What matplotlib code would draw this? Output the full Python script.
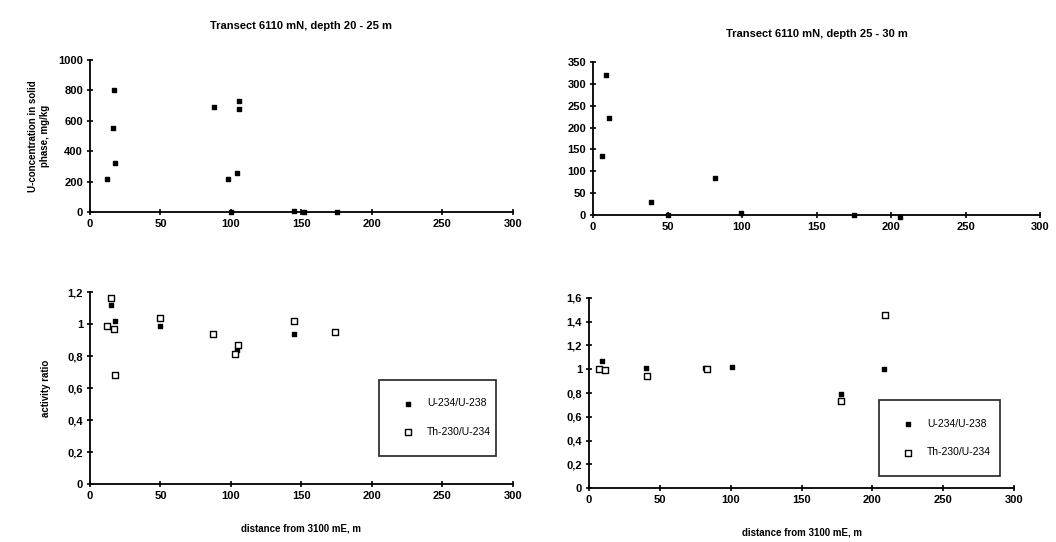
import matplotlib
matplotlib.use("Agg")
import matplotlib.pyplot as plt

plt.rcParams['font.family'] = ['Liberation Sans', 'DejaVu Sans']

# Данные: концентрация U в твёрдой фазе, глубина 20-25 м
conc_a_x = [12, 16, 17, 18, 88, 98, 104, 106, 106, 100, 145, 152, 175]
conc_a_y = [215, 550, 800, 325, 690, 215, 255, 730, 680, 0, 5, 0, 3]

# глубина 25-30 м
conc_b_x = [6, 9, 11, 39, 50, 82, 99, 175, 206]
conc_b_y = [135, 321, 221, 29, 0, 85, 5, 0, -5]

# Отношения активностей, 20-25 м
u_a_x = [12, 15, 18, 50, 87, 104, 145, 174]
u_a_y = [0.99, 1.12, 1.02, 0.985, 0.94, 0.84, 0.935, 0.95]
th_a_x = [12, 15, 17, 18, 50, 87, 105, 103, 145, 174]
th_a_y = [0.99, 1.16, 0.97, 0.68, 1.04, 0.935, 0.867, 0.815, 1.017, 0.95]

# Отношения активностей, 25-30 м
u_b_x = [9, 40, 82, 101, 178, 208]
u_b_y = [1.07, 1.01, 1.01, 1.02, 0.79, 1.0]
th_b_x = [7, 11, 41, 83, 178, 209]
th_b_y = [1.0, 0.995, 0.94, 1.0, 0.73, 1.46]

x_ticks = [0, 50, 100, 150, 200, 250, 300]
ratio_ticks_a = [0, 0.2, 0.4, 0.6, 0.8, 1.0, 1.2]
ratio_labels_a = ['0', '0,2', '0,4', '0,6', '0,8', '1', '1,2']
ratio_ticks_b = [0, 0.2, 0.4, 0.6, 0.8, 1.0, 1.2, 1.4, 1.6]
ratio_labels_b = ['0', '0,2', '0,4', '0,6', '0,8', '1', '1,2', '1,4', '1,6']

titles = ['Transect 6110 mN, depth 20 - 25 m', 'Transect 6110 mN, depth 25 - 30 m']
xlabel = 'distance from 3100 mE, m'


def style_axes(ax):
    for side in ['top', 'right']:
        ax.spines[side].set_visible(False)
    for side in ['left', 'bottom']:
        ax.spines[side].set_linewidth(1.3)
    ax.tick_params(direction='inout', length=4, width=1.2, labelsize=8, pad=3)
    for lbl in ax.get_xticklabels() + ax.get_yticklabels():
        lbl.set_fontweight('bold')
    ax.set_xlim(0, 300)
    ax.set_xticks(x_ticks)
    ax.set_xticklabels([str(t) for t in x_ticks], fontweight='bold')


def add_legend(ax, anchor):
    leg = ax.legend(loc='lower left', bbox_to_anchor=anchor, mode='expand',
                    frameon=True, fancybox=False, edgecolor='black', fontsize=7.5,
                    handletextpad=0.8, labelspacing=1.8, borderpad=1.8, scatterpoints=1)
    leg.get_frame().set_linewidth(1.3)


fig = plt.figure(figsize=(10.56, 5.42), dpi=100)
ax1 = fig.add_axes([0.0852, 0.6089, 0.4006, 0.2804])
ax2 = fig.add_axes([0.5616, 0.6033, 0.4233, 0.2823])
ax3 = fig.add_axes([0.0852, 0.1070, 0.4006, 0.3542])
ax4 = fig.add_axes([0.5578, 0.0996, 0.4025, 0.3506])

# Верхние графики - концентрация
ax1.scatter(conc_a_x, conc_a_y, marker='s', s=10, color='black', clip_on=False, zorder=3)
ax1.set_ylim(0, 1000)
ax1.set_yticks([0, 200, 400, 600, 800, 1000])
ax1.set_yticklabels(['0', '200', '400', '600', '800', '1000'], fontweight='bold')
ax1.set_ylabel('U-concentration in solid\nphase, mg/kg', fontsize=7, fontweight='bold', labelpad=6)
ax1.set_title(titles[0], fontsize=8, fontweight='bold', pad=22)
style_axes(ax1)

ax2.scatter(conc_b_x, conc_b_y, marker='s', s=10, color='black', clip_on=False, zorder=3)
ax2.set_ylim(0, 350)
ax2.set_yticks([0, 50, 100, 150, 200, 250, 300, 350])
ax2.set_yticklabels(['0', '50', '100', '150', '200', '250', '300', '350'], fontweight='bold')
ax2.set_title(titles[1], fontsize=8, fontweight='bold', pad=18)
style_axes(ax2)

# Нижние графики - отношения активностей
ax3.scatter(u_a_x, u_a_y, marker='s', s=8, color='black', label='U-234/U-238', zorder=3)
ax3.scatter(th_a_x, th_a_y, marker='s', s=24, facecolors='white', edgecolors='black',
            linewidths=1.0, label='Th-230/U-234', zorder=4)
ax3.set_ylim(0, 1.2)
ax3.set_yticks(ratio_ticks_a)
ax3.set_yticklabels(ratio_labels_a, fontweight='bold')
ax3.set_ylabel('activity ratio', fontsize=7, fontweight='bold', labelpad=12)
ax3.set_xlabel(xlabel, fontsize=7, fontweight='bold', labelpad=16)
style_axes(ax3)
add_legend(ax3, (0.671, 0.12, 0.30, 0.38))

ax4.scatter(u_b_x, u_b_y, marker='s', s=8, color='black', label='U-234/U-238', zorder=3)
ax4.scatter(th_b_x, th_b_y, marker='s', s=24, facecolors='white', edgecolors='black',
            linewidths=1.0, label='Th-230/U-234', zorder=4)
ax4.set_ylim(0, 1.6)
ax4.set_yticks(ratio_ticks_b)
ax4.set_yticklabels(ratio_labels_b, fontweight='bold')
ax4.set_xlabel(xlabel, fontsize=7, fontweight='bold', labelpad=16)
style_axes(ax4)
add_legend(ax4, (0.67, 0.035, 0.31, 0.38))

fig.savefig('out.png', dpi=100)
